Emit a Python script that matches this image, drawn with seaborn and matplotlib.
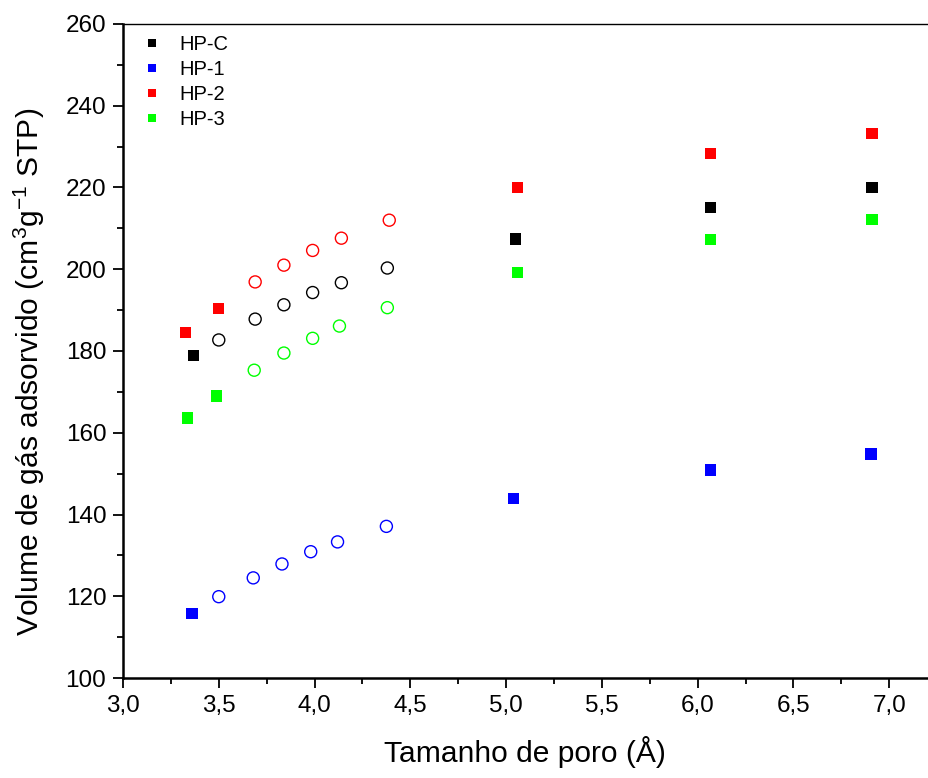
import matplotlib
matplotlib.use("Agg")
import matplotlib.pyplot as plt
import matplotlib.ticker as mticker
from matplotlib.lines import Line2D
import seaborn as sns
import pandas as pd

sns.set_style("ticks")
plt.rcParams['font.family'] = ['Liberation Sans', 'DejaVu Sans']
plt.rcParams['mathtext.fontset'] = 'custom'
plt.rcParams['mathtext.rm'] = 'Liberation Sans'
plt.rcParams['mathtext.it'] = 'Liberation Sans'
plt.rcParams['text.color'] = 'black'
plt.rcParams['axes.labelcolor'] = 'black'
plt.rcParams['xtick.color'] = 'black'
plt.rcParams['ytick.color'] = 'black'

series = ["HP-C", "HP-1", "HP-2", "HP-3"]
colors = ["#000000", "#0000FF", "#FF0000", "#00FF00"]

# measured points (filled squares)
sq_x_hpc = [3.37, 5.05, 6.065, 6.91]
sq_y_hpc = [178.8, 207.4, 215.2, 219.9]
sq_x_hp1 = [3.36, 5.04, 6.065, 6.905]
sq_y_hp1 = [115.8, 144.0, 150.9, 154.8]
sq_x_hp2 = [3.325, 3.50, 5.06, 6.065, 6.91]
sq_y_hp2 = [184.5, 190.3, 220.1, 228.3, 233.3]
sq_x_hp3 = [3.335, 3.49, 5.06, 6.065, 6.91]
sq_y_hp3 = [163.6, 169.0, 199.1, 207.2, 212.1]

# open circles
ci_x_hpc = [3.50, 3.69, 3.84, 3.99, 4.14, 4.38]
ci_y_hpc = [182.7, 187.8, 191.3, 194.3, 196.7, 200.3]
ci_x_hp1 = [3.50, 3.68, 3.83, 3.98, 4.12, 4.375]
ci_y_hp1 = [119.9, 124.5, 127.9, 130.9, 133.3, 137.1]
ci_x_hp2 = [3.69, 3.84, 3.99, 4.14, 4.39]
ci_y_hp2 = [196.9, 201.0, 204.6, 207.6, 212.0]
ci_x_hp3 = [3.685, 3.84, 3.99, 4.13, 4.38]
ci_y_hp3 = [175.3, 179.5, 183.1, 186.1, 190.6]

sq = pd.DataFrame({
    "x": sq_x_hpc + sq_x_hp1 + sq_x_hp2 + sq_x_hp3,
    "y": sq_y_hpc + sq_y_hp1 + sq_y_hp2 + sq_y_hp3,
    "s": ["HP-C"] * len(sq_x_hpc) + ["HP-1"] * len(sq_x_hp1)
         + ["HP-2"] * len(sq_x_hp2) + ["HP-3"] * len(sq_x_hp3),
})
ci = pd.DataFrame({
    "x": ci_x_hpc + ci_x_hp1 + ci_x_hp2 + ci_x_hp3,
    "y": ci_y_hpc + ci_y_hp1 + ci_y_hp2 + ci_y_hp3,
    "s": ["HP-C"] * len(ci_x_hpc) + ["HP-1"] * len(ci_x_hp1)
         + ["HP-2"] * len(ci_x_hp2) + ["HP-3"] * len(ci_x_hp3),
})

fig = plt.figure(figsize=(9.29, 7.78), dpi=100)
ax = fig.add_axes([0.1324, 0.1285, 0.866, 0.8407])

pal = dict(zip(series, colors))
sns.scatterplot(data=sq, x="x", y="y", hue="s", palette=pal, marker="s",
                s=64, linewidth=0, ax=ax, legend=False, zorder=3)
for name in series:
    d = ci[ci["s"] == name]
    sns.scatterplot(data=d, x="x", y="y", marker="o", s=75,
                    facecolors="none", edgecolor=pal[name], linewidth=1.0,
                    ax=ax, legend=False, zorder=3)

ax.set_xlim(3.0, 7.2)
ax.set_ylim(100, 260)
ax.xaxis.set_major_locator(mticker.MultipleLocator(0.5))
ax.xaxis.set_minor_locator(mticker.MultipleLocator(0.25))
ax.yaxis.set_major_locator(mticker.MultipleLocator(20))
ax.yaxis.set_minor_locator(mticker.MultipleLocator(10))
ax.xaxis.set_major_formatter(mticker.FuncFormatter(lambda v, p: f"{v:.1f}".replace(".", ",")))
ax.yaxis.set_major_formatter(mticker.FuncFormatter(lambda v, p: f"{v:.0f}"))
ax.tick_params(which="major", direction="out", length=7, width=1.3, labelsize=17.5, pad=5,
               top=False, right=False, colors="black")
ax.tick_params(which="minor", direction="out", length=4, width=1.3, top=False, right=False,
               colors="black")

ax.spines["right"].set_visible(False)
ax.spines["top"].set_linewidth(1.0)
ax.spines["left"].set_linewidth(1.8)
ax.spines["bottom"].set_linewidth(1.8)
for sp in ax.spines.values():
    sp.set_color("black")

ax.set_xlabel("Tamanho de poro (Å)", fontsize=21.6, labelpad=14)
ax.set_ylabel("Volume de gás adsorvido (cm$^{3}$g$^{-1}$ STP)", fontsize=21.6)
ax.yaxis.set_label_coords(-0.094, 0.468)

handles = [Line2D([], [], linestyle="none", marker="s", markersize=6,
                  markerfacecolor=c, markeredgewidth=0, label=n)
           for n, c in zip(series, colors)]
ax.legend(handles=handles, loc="upper left", frameon=False, fontsize=14.5,
          bbox_to_anchor=(0.0075, 1.0), borderaxespad=0.15, handletextpad=0.75,
          labelspacing=0.3, handlelength=1.2)

fig.savefig("out.png", dpi=100)
